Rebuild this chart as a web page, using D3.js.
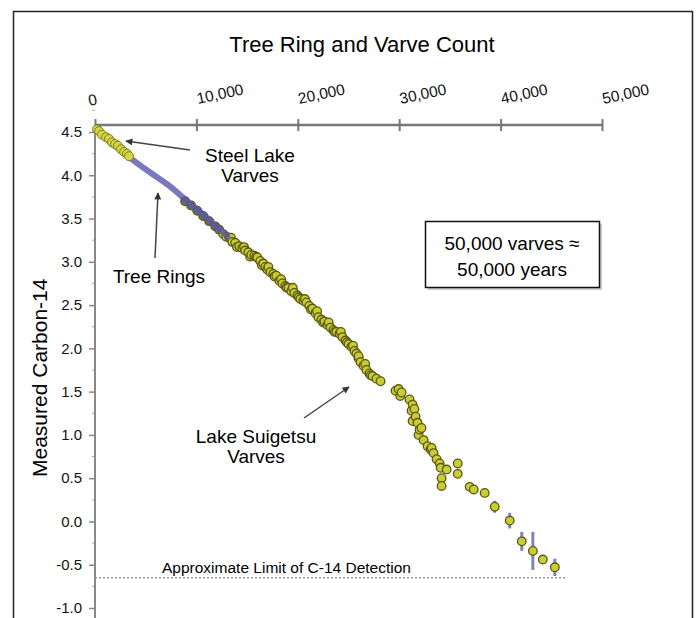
<!DOCTYPE html>
<html>
<head>
<meta charset="utf-8">
<script src="https://cdn.jsdelivr.net/npm/d3@7"></script>
<style>
  body { margin: 0; background: #fff; }
  svg { display: block; font-family: "Liberation Sans", Arial, Helvetica, sans-serif; }
</style>
</head>
<body>
<script>
// tick values
var xTicks = [0, 10000, 20000, 30000, 40000, 50000];
var yTicks = [-1.0, -0.5, 0.0, 0.5, 1.0, 1.5, 2.0, 2.5, 3.0, 3.5, 4.0, 4.5];

// Steel Lake varves (years, C-14)
var steelYears = [200, 400, 690, 1090, 1380, 1680, 1980, 2270, 2570, 2870, 3160, 3360];
var steelC14   = [4.53, 4.51, 4.47, 4.44, 4.42, 4.38, 4.36, 4.34, 4.30, 4.27, 4.25, 4.22];

// tree rings
var treeYears = [100, 3360, 5340, 7310, 9290, 10770, 11760, 13040];
var treeC14   = [4.52, 4.21, 4.04, 3.88, 3.68, 3.54, 3.43, 3.30];

// Lake Suigetsu varves
var suigYears = [8890, 9480, 10080, 10670, 11260, 11860, 12250,
  12650, 12940, 13240, 13540, 13830, 14230, 14520, 14820, 15120, 15410, 15710, 16010,
  16300, 16600, 16800, 16990, 17290, 17590, 17880, 18180, 18480, 18770, 19070, 19360,
  19660, 19960, 20250, 20550, 20850, 21140, 21440, 21740, 22030, 22330, 22630, 22920,
  23220, 23510, 23810, 24110, 24400, 24700, 25000, 25290, 25590, 25790, 25980, 26180,
  26480, 26770, 27070, 27370, 27760, 28160, 29640, 29940, 30230, 31020, 31320, 31220,
  31620, 31320, 31810, 32010, 31910, 32410, 32800, 33100, 33390, 33690, 33990, 34090,
  34680, 35770, 35770, 34180, 34180, 36950, 37350, 38430, 39420, 40900, 42090, 43180,
  44160, 45350,
  13400, 14000, 14700, 15300, 15900, 16450, 17100, 17700, 18350, 18900, 19500, 20100,
  20700, 21300, 21900, 22500, 23050, 23650, 24250, 24850, 25450, 26000, 26650, 27200,
  30100, 31500, 32200, 33200];
var suigC14 = [3.70, 3.65, 3.59, 3.53, 3.47, 3.41, 3.37,
  3.32, 3.29, 3.28, 3.23, 3.22, 3.18, 3.16, 3.13, 3.11, 3.08, 3.07, 3.05,
  3.01, 2.98, 2.94, 2.91, 2.88, 2.86, 2.84, 2.78, 2.75, 2.72, 2.70, 2.66,
  2.64, 2.61, 2.57, 2.55, 2.53, 2.49, 2.46, 2.41, 2.36, 2.33, 2.31, 2.27,
  2.24, 2.21, 2.19, 2.17, 2.13, 2.09, 2.05, 2.02, 1.97, 1.94, 1.89, 1.84,
  1.80, 1.75, 1.71, 1.68, 1.65, 1.62, 1.51, 1.53, 1.49, 1.41, 1.35, 1.28,
  1.21, 1.16, 1.14, 1.06, 1.00, 0.94, 0.87, 0.83, 0.79, 0.72, 0.67, 0.62,
  0.60, 0.67, 0.55, 0.50, 0.41, 0.40, 0.37, 0.33, 0.17, 0.01, -0.23, -0.34,
  -0.44, -0.53,
  3.28, 3.17, 3.17, 3.06, 3.06, 2.96, 2.94, 2.83, 2.80, 2.70, 2.70, 2.59,
  2.57, 2.45, 2.43, 2.30, 2.30, 2.19, 2.19, 2.07, 2.03, 1.91, 1.82, 1.69,
  1.45, 1.30, 1.08, 0.85];

// error bars on the oldest samples
var errYears = [39420, 40900, 42090, 43180, 44160, 45350];
var errC14   = [0.17, 0.01, -0.23, -0.34, -0.44, -0.53];
var errSize  = [0.07, 0.09, 0.11, 0.22, 0.05, 0.10];

var detectionLimit = -0.65;

var W = 699, H = 618;

var svg = d3.select("body").append("svg")
    .attr("width", W)
    .attr("height", H);

var defs = svg.append("defs");
defs.append("marker")
    .attr("id", "arrow")
    .attr("viewBox", "0 0 10 10")
    .attr("refX", 9).attr("refY", 5)
    .attr("markerWidth", 9).attr("markerHeight", 7)
    .attr("markerUnits", "userSpaceOnUse")
    .attr("orient", "auto")
  .append("path")
    .attr("d", "M0,0 L10,5 L0,10 z")
    .attr("fill", "#333");

// outer frame
svg.append("rect")
    .attr("x", 13.5).attr("y", 11.5)
    .attr("width", 679).attr("height", 640)
    .attr("fill", "none")
    .attr("stroke", "#222")
    .attr("stroke-width", 1.5);

// scales
var x = d3.scaleLinear().domain([0, 50000]).range([95, 602]);
var y = d3.scaleLinear().domain([-1, 4.5]).range([608, 132]);

// title
svg.append("text")
    .attr("x", 362).attr("y", 52)
    .attr("text-anchor", "middle")
    .style("font-size", "22px")
    .text("Tree Ring and Varve Count");

// top x axis
var axisY = y(4.58);
var xAxis = d3.axisTop(x).tickValues(xTicks).tickFormat(d3.format(","));
var gx = svg.append("g")
    .attr("transform", "translate(0," + axisY + ")")
    .call(xAxis);
gx.select(".domain").attr("stroke", "#777").attr("stroke-width", 2.5)
    .attr("d", "M" + x(0) + ",0H" + x(50000));
gx.selectAll(".tick line").attr("stroke", "#777").attr("stroke-width", 2)
    .attr("y1", 6).attr("y2", -6);
gx.selectAll(".tick text")
    .attr("x", 0).attr("y", 0).attr("dy", 0)
    .attr("fill", "#111")
    .style("font-size", "15.5px")
    .style("font-family", "'Liberation Sans', Arial, sans-serif")
    .attr("text-anchor", "start")
    .attr("transform", function(d) {
      return d === 0 ? "translate(-6,-19) rotate(-12)" : "translate(1,-21) rotate(-12)";
    });

// left y axis
var yAxis = d3.axisLeft(y).tickValues(yTicks).tickSize(6)
    .tickFormat(function(d) { return d.toFixed(1); });
var gy = svg.append("g")
    .attr("transform", "translate(" + x(0) + ",0)")
    .call(yAxis);
gy.select(".domain").remove();
gy.selectAll(".tick line").attr("stroke", "#888").attr("stroke-width", 1.5);
gy.selectAll(".tick text")
    .attr("x", -13)
    .attr("fill", "#111")
    .style("font-size", "15px")
    .style("font-family", "'Liberation Sans', Arial, sans-serif");
// minor ticks
gy.selectAll(".minor")
    .data(yTicks.map(function(d) { return d + 0.25; }))
  .enter().append("line")
    .attr("class", "minor")
    .attr("x1", -3).attr("x2", 0)
    .attr("y1", function(d) { return y(d); })
    .attr("y2", function(d) { return y(d); })
    .attr("stroke", "#aaa");
gy.append("line")
    .attr("x1", 0).attr("x2", 0)
    .attr("y1", axisY).attr("y2", H)
    .attr("stroke", "#888").attr("stroke-width", 2);

// y axis title
svg.append("text")
    .attr("transform", "translate(47,477) rotate(-90)")
    .attr("text-anchor", "start")
    .style("font-size", "21px")
    .text("Measured Carbon-14");

// detection limit
svg.append("line")
    .attr("x1", x(0)).attr("x2", 567)
    .attr("y1", y(detectionLimit)).attr("y2", y(detectionLimit))
    .attr("stroke", "#999")
    .attr("stroke-width", 1.5)
    .attr("stroke-dasharray", "2,2");
svg.append("text")
    .attr("x", 162).attr("y", y(detectionLimit) - 5)
    .style("font-size", "15.5px")
    .text("Approximate Limit of C-14 Detection");

var dotFill = "#c9cc34", dotStroke = "#5a5812";

var suig = suigYears.map(function(d, i) { return {x: d, y: suigC14[i]}; })
    .sort(function(a, b) { return a.x - b.x; });
var steel = steelYears.map(function(d, i) { return {x: d, y: steelC14[i]}; });
var tree = treeYears.map(function(d, i) { return {x: d, y: treeC14[i]}; });
var errs = errYears.map(function(d, i) { return {x: d, y: errC14[i], e: errSize[i]}; });

svg.selectAll(".err")
    .data(errs)
  .enter().append("line")
    .attr("class", "err")
    .attr("x1", function(d) { return x(d.x); })
    .attr("x2", function(d) { return x(d.x); })
    .attr("y1", function(d) { return y(d.y + d.e); })
    .attr("y2", function(d) { return y(d.y - d.e); })
    .attr("stroke", "#8484b4")
    .attr("stroke-width", 3);

// Suigetsu points
svg.selectAll(".suig")
    .data(suig)
  .enter().append("circle")
    .attr("class", "suig")
    .attr("cx", function(d) { return x(d.x); })
    .attr("cy", function(d) { return y(d.y); })
    .attr("r", 4.3)
    .attr("fill", function(d) { return d.x < 12500 ? "#6d6d55" : dotFill; })
    .attr("stroke", dotStroke)
    .attr("stroke-width", 1.3);

// tree rings line
svg.append("path")
    .datum(tree)
    .attr("fill", "none")
    .attr("stroke", "#5757ad")
    .attr("stroke-width", 6)
    .attr("stroke-linecap", "round")
    .attr("opacity", 0.8)
    .attr("d", d3.line().x(function(d) { return x(d.x); }).y(function(d) { return y(d.y); }).curve(d3.curveMonotoneX));

// Steel Lake points
svg.selectAll(".steel")
    .data(steel)
  .enter().append("circle")
    .attr("class", "steel")
    .attr("cx", function(d) { return x(d.x); })
    .attr("cy", function(d) { return y(d.y); })
    .attr("r", 4.5)
    .attr("fill", "#d3d743")
    .attr("stroke", "#7e7e22")
    .attr("stroke-width", 1);

// annotations
function label(lines, cx, y0) {
  lines.forEach(function(t, i) {
    svg.append("text")
        .attr("x", cx).attr("y", y0 + i * 20)
        .attr("text-anchor", "middle")
        .style("font-size", "19px")
        .text(t);
  });
}
function arrow(x1, y1, x2, y2) {
  svg.append("line")
      .attr("x1", x1).attr("y1", y1).attr("x2", x2).attr("y2", y2)
      .attr("stroke", "#444")
      .attr("stroke-width", 1.5)
      .attr("marker-end", "url(#arrow)");
}

label(["Steel Lake", "Varves"], 250, 162);
arrow(190, 150, 126, 141);

label(["Tree Rings"], 159, 283);
arrow(155, 258, 158, 193);

label(["Lake Suigetsu", "Varves"], 256, 443);
arrow(304, 418, 349, 387);

// info box
svg.append("rect")
    .attr("x", 428).attr("y", 224)
    .attr("width", 174).attr("height", 66)
    .attr("fill", "#ccc");
svg.append("rect")
    .attr("x", 425.5).attr("y", 221.5)
    .attr("width", 174).attr("height", 66)
    .attr("fill", "#fff")
    .attr("stroke", "#111")
    .attr("stroke-width", 1.5);
svg.append("text")
    .attr("x", 512).attr("y", 250)
    .attr("text-anchor", "middle")
    .style("font-size", "19px")
    .text("50,000 varves \u2248");
svg.append("text")
    .attr("x", 512).attr("y", 276)
    .attr("text-anchor", "middle")
    .style("font-size", "19px")
    .text("50,000 years");
</script>
</body>
</html>
